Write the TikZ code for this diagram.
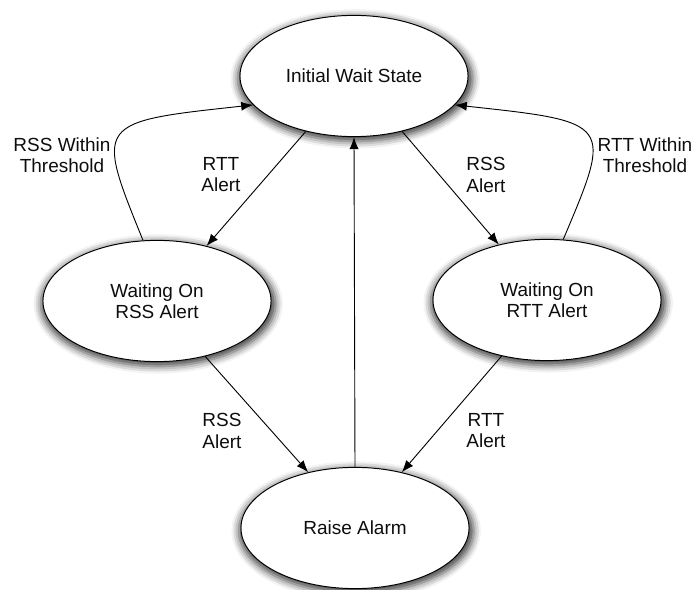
\documentclass[tikz,border=0pt]{standalone}
\usepackage{fontspec}
\setmainfont{Liberation Sans}
\usetikzlibrary{arrows.meta,shapes.geometric,shadows.blur}

\begin{document}
\begin{tikzpicture}[x=0.025cm,y=-0.025cm,
  font=\fontsize{13.5}{15}\selectfont,
  state/.style={ellipse, draw=black, line width=0.7pt, fill=white,
    minimum width=5.7cm, minimum height=3.03cm, inner sep=0pt,
    align=center, text=black!95,
    blur shadow={shadow xshift=0.8pt, shadow yshift=-2pt,
      shadow scale=1.03, shadow blur radius=5pt, shadow opacity=75}},
  lbl/.style={align=center, inner sep=0pt, text=black!95},
  trans/.style={line width=0.65pt, -{Latex[length=8.5pt,width=6.5pt]}}]

  % canvas
  \useasboundingbox (0,0) rectangle (693,590);

  % states
  \node[state] (init)  at (354,76)  {Initial Wait State};
  \node[state] (rss)   at (157,301) {Waiting On\\RSS Alert};
  \node[state] (rtt)   at (547,300) {Waiting On\\RTT Alert};
  \node[state] (alarm) at (355,528) {Raise Alarm};

  % transitions
  \draw[trans] (init.229) -- (rss.48);
  \draw[trans] (init.311) -- (rtt.131);
  \draw[trans] (rss.311) -- (alarm.130);
  \draw[trans] (rtt.231) -- (alarm.50);
  \draw[trans] (alarm.north) -- (init.south);
  \draw[trans] (rss.103) .. controls (95,122) .. (init.196);
  \draw[trans] (rtt.75) .. controls (613,122) .. (init.344);

  % transition labels
  \node[lbl] (l1) at (62,155)  {RSS Within\\Threshold};
  \node[lbl] (l2) at (221,175) {RTT\\Alert};
  \node[lbl] (l3) at (486,175) {RSS\\Alert};
  \node[lbl] (l4) at (645,155) {RTT Within\\Threshold};
  \node[lbl] (l5) at (222,431) {RSS\\Alert};
  \node[lbl] (l6) at (486,431) {RTT\\Alert};
\end{tikzpicture}
\end{document}
